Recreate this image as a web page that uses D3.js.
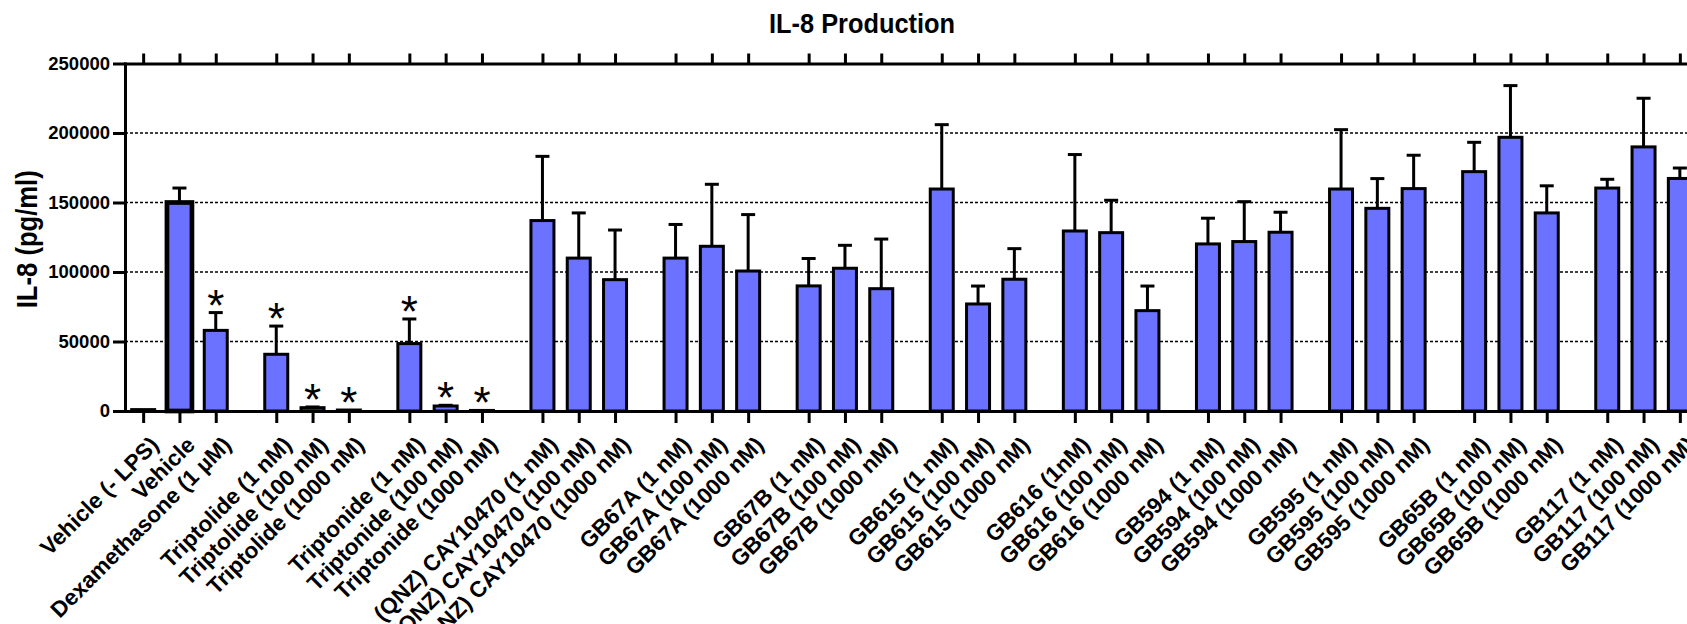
<!DOCTYPE html>
<html>
<head>
<meta charset="utf-8">
<script src="https://cdn.jsdelivr.net/npm/d3@7"></script>
<style>
  body { margin: 0; background: #fff; }
  svg { display: block; font-family: "Liberation Sans", Arial, Helvetica, sans-serif; font-weight: bold; }
</style>
</head>
<body>
<div id="chart"></div>
<script>
const labels = [
    "Vehicle (- LPS)", "Vehicle", "Dexamethasone (1 µM)",
    "Triptolide (1 nM)", "Triptolide (100 nM)", "Triptolide (1000 nM)",
    "Triptonide (1 nM)", "Triptonide (100 nM)", "Triptonide (1000 nM)",
    "(QNZ) CAY10470 (1 nM)", "(QNZ) CAY10470 (100 nM)", "(QNZ) CAY10470 (1000 nM)",
    "GB67A (1 nM)", "GB67A (100 nM)", "GB67A (1000 nM)",
    "GB67B (1 nM)", "GB67B (100 nM)", "GB67B (1000 nM)",
    "GB615 (1 nM)", "GB615 (100 nM)", "GB615 (1000 nM)",
    "GB616 (1nM)", "GB616 (100 nM)", "GB616 (1000 nM)",
    "GB594 (1 nM)", "GB594 (100 nM)", "GB594 (1000 nM)",
    "GB595 (1 nM)", "GB595 (100 nM)", "GB595 (1000 nM)",
    "GB65B (1 nM)", "GB65B (100 nM)", "GB65B (1000 nM)",
    "GB117 (1 nM)", "GB117 (100 nM)", "GB117 (1000 nM)"
];

// mean IL-8 (pg/ml)
const means = [
    1000, 150000, 58000,
    40800, 2400, 700,
    48500, 3600, 400,
    137000, 110000, 94500,
    110000, 118500, 100700,
    90000, 102700, 88000,
    159700, 77000, 94800,
    129500, 128300, 72200,
    120200, 121900, 128600,
    159700, 145800, 160000,
    172200, 196900, 142500,
    160400, 190000, 167300
];

// upper error (SEM)
const errors = [
    0, 10400, 12800,
    20300, 500, 0,
    17700, 500, 0,
    46200, 32500, 35700,
    24200, 44600, 40600,
    19700, 16500, 35700,
    46300, 12900, 22000,
    55000, 23300, 17700,
    18500, 28700, 14400,
    42700, 21400, 24000,
    21100, 37200, 19500,
    6300, 35000, 7500
];

const significant = [
    false, false, true,
    true, true, true,
    true, true, true,
    false, false, false, false, false, false, false, false, false,
    false, false, false, false, false, false, false, false, false,
    false, false, false, false, false, false, false, false, false
];

const yTicks = [0, 50000, 100000, 150000, 200000, 250000];
const gridTicks = [50000, 100000, 150000, 200000];

const width = 1687, height = 624;
const plotLeft = 125, plotTop = 63.5, plotBottom = 411;
const slot = 36.3, groupSize = 3, groupGap = 2 / 3;
const nSlots = labels.length + (labels.length / groupSize - 1) * groupGap;

const slotPos = i => i + Math.floor(i / groupSize) * groupGap + 0.5;
const positions = labels.map((d, i) => slotPos(i));

const x = d3.scaleLinear()
    .domain([0, nSlots])
    .range([plotLeft, plotLeft + nSlots * slot]);

const y = d3.scaleLinear()
    .domain([0, 250000])
    .range([plotBottom, plotTop]);

const svg = d3.select("#chart")
    .append("svg")
    .attr("width", width)
    .attr("height", height)
    .attr("viewBox", `0 0 ${width} ${height}`);

// title
svg.append("text")
    .attr("x", 862)
    .attr("y", 33)
    .attr("text-anchor", "middle")
    .style("font-size", "27px")
    .attr("textLength", 186)
    .attr("lengthAdjust", "spacingAndGlyphs")
    .text("IL-8 Production");

// y title
svg.append("text")
    .attr("transform", `translate(37,${(plotTop + plotBottom) / 2 + 2}) rotate(-90)`)
    .attr("text-anchor", "middle")
    .style("font-size", "29px")
    .attr("textLength", 138)
    .attr("lengthAdjust", "spacingAndGlyphs")
    .text("IL-8 (pg/ml)");

// dashed gridlines
svg.append("g")
    .selectAll("line")
    .data(gridTicks)
    .enter()
    .append("line")
    .attr("x1", plotLeft)
    .attr("x2", width)
    .attr("y1", d => y(d))
    .attr("y2", d => y(d))
    .attr("stroke", "#000")
    .attr("stroke-width", 1.3)
    .attr("stroke-dasharray", "3,2");

const data = labels.map((name, i) => ({
    name,
    pos: positions[i],
    mean: means[i],
    err: errors[i],
    sig: significant[i]
}));

// bars
svg.append("g")
    .selectAll("rect")
    .data(data)
    .enter()
    .append("rect")
    .attr("x", d => x(d.pos) - (d.name === "Vehicle" ? 12.5 : 11.5))
    .attr("width", d => d.name === "Vehicle" ? 25 : 23)
    .attr("y", d => y(d.mean))
    .attr("height", d => y(0) - y(d.mean))
    .attr("fill", "#6b72ff")
    .attr("stroke", "#000")
    .attr("stroke-width", d => d.name === "Vehicle" ? 4.7 : 3);

// error bars
const errG = svg.append("g")
    .attr("stroke", "#000")
    .attr("stroke-width", 3);

const withErr = data.filter(d => d.err > 0);

errG.selectAll(".stem")
    .data(withErr)
    .enter()
    .append("line")
    .attr("x1", d => x(d.pos))
    .attr("x2", d => x(d.pos))
    .attr("y1", d => y(d.mean))
    .attr("y2", d => y(d.mean + d.err));

errG.selectAll(".cap")
    .data(withErr)
    .enter()
    .append("line")
    .attr("x1", d => x(d.pos) - 7)
    .attr("x2", d => x(d.pos) + 7)
    .attr("y1", d => y(d.mean + d.err))
    .attr("y2", d => y(d.mean + d.err));

// significance stars
svg.append("g")
    .selectAll("text")
    .data(data.filter(d => d.sig))
    .enter()
    .append("text")
    .attr("x", d => x(d.pos))
    .attr("y", d => y(d.mean + d.err) - 17 + 25)
    .attr("text-anchor", "middle")
    .style("font-size", "44px")
    .style("font-weight", "normal")
    .text("*");

// axes
const axisStyle = g => {
    g.select(".domain").attr("stroke-width", 3).attr("stroke-linecap", "square");
    g.selectAll(".tick line").attr("stroke-width", 3);
};

svg.append("g")
    .attr("transform", `translate(0,${plotTop})`)
    .call(d3.axisTop(x).tickValues(positions).tickFormat("").tickSize(10).tickSizeOuter(0))
    .call(axisStyle);

const xAxis = svg.append("g")
    .attr("transform", `translate(0,${plotBottom})`)
    .call(d3.axisBottom(x).tickValues(positions).tickFormat((d, i) => labels[i]).tickSize(12).tickSizeOuter(0))
    .call(axisStyle);

xAxis.selectAll("text")
    .attr("x", 0)
    .attr("y", 0)
    .attr("dy", "0.71em")
    .attr("transform", "translate(5,24) rotate(-45)")
    .style("text-anchor", "end")
    .style("font-size", "22.5px")
    .style("font-family", "'Liberation Sans', Arial, sans-serif")
    .style("font-weight", "bold")
    .attr("fill", "#000");

svg.append("g")
    .attr("transform", `translate(${plotLeft},0)`)
    .call(d3.axisLeft(y).tickValues(yTicks).tickFormat(d3.format("d")).tickSize(12).tickSizeOuter(0))
    .call(axisStyle)
    .selectAll("text")
    .style("font-size", "18.5px")
    .style("font-family", "'Liberation Sans', Arial, sans-serif")
    .style("font-weight", "bold")
    .attr("fill", "#000");
</script>
</body>
</html>
